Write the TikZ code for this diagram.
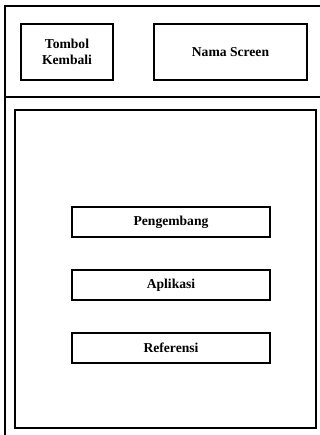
\documentclass[tikz,border=0pt]{standalone}
\usepackage{fontspec}
\setmainfont{Liberation Serif}
\begin{document}
\begin{tikzpicture}[x=1pt,y=-1pt,
  box/.style={draw=black,line width=1.8pt,inner sep=0pt,font=\bfseries\fontsize{13.6}{16.5}\selectfont,align=center},
  frame/.style={draw=black,line width=1.5pt}]
\useasboundingbox[fill=white] (0,0) rectangle (320,435);
\coordinate (tl) at (5,6);
\coordinate (tr) at (322,6);
\coordinate (bl) at (5,437);
\coordinate (dl) at (5,97);
\coordinate (dr) at (322,97);
\draw[frame] (tr) -- (tl) -- (bl);
\draw[frame] (dl) -- (dr);
\node[box,minimum width=92,minimum height=56] (back) at (67,52) {Tombol\\Kembali};
\node[box,minimum width=153,minimum height=56] (title) at (230.5,52) {Nama Screen};
\node[draw=black,line width=1.5pt,minimum width=301,minimum height=318,inner sep=0pt] (content) at (165.5,269) {};
\node[box,minimum width=198,minimum height=30] (dev) at (171,222) {Pengembang};
\node[box,minimum width=198,minimum height=30] (app) at (171,285) {Aplikasi};
\node[box,minimum width=198,minimum height=30] (ref) at (171,348) {Referensi};
\end{tikzpicture}
\end{document}
